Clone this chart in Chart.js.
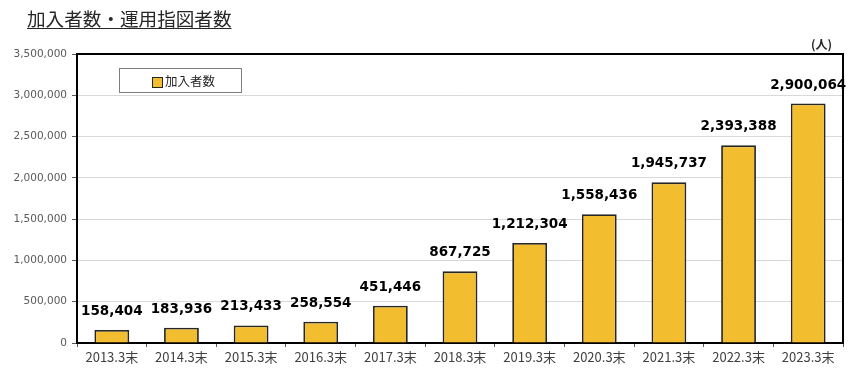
<!DOCTYPE html>
<html><head><meta charset="utf-8">
<script src="https://cdn.jsdelivr.net/npm/chart.js@4/dist/chart.umd.min.js"></script>
<style>
html,body{margin:0;padding:0;background:#fff;}
#wrap{position:relative;width:850px;height:373px;}
#title{position:absolute;left:27px;top:5px;font-family:"Noto Sans CJK JP";font-size:18.6px;color:#262626;text-decoration:underline;text-underline-offset:2px;line-height:26px;white-space:nowrap;}
#unit{position:absolute;left:811px;top:35px;font-family:"Noto Sans CJK JP";font-size:12px;color:#262626;font-weight:bold;white-space:nowrap;}
canvas{position:absolute;left:0;top:0;}
</style></head>
<body><div id="wrap">
<canvas id="c" width="850" height="373"></canvas>
<div id="title">加入者数・運用指図者数</div>
<div id="unit">(人)</div>
</div>
<script>
const categories = ["2013.3末","2014.3末","2015.3末","2016.3末","2017.3末","2018.3末","2019.3末","2020.3末","2021.3末","2022.3末","2023.3末"];
const members = [158404,183936,213433,258554,451446,867725,1212304,1558436,1945737,2393388,2900064];
const seriesName = "加入者数";
const yTicks = [0,500000,1000000,1500000,2000000,2500000,3000000,3500000];

const fmt = v => v.toLocaleString('en-US');

const overlay = {
  id:'overlay',
  afterDatasetsDraw(chart){
    const ctx = chart.ctx, a = chart.chartArea;
    const meta = chart.getDatasetMeta(0);
    ctx.save();
    ctx.font = 'bold 13.5px "DejaVu Sans"';
    ctx.fillStyle = '#000';
    ctx.textAlign = 'center';
    ctx.textBaseline = 'alphabetic';
    meta.data.forEach((bar,i)=>{
      ctx.fillText(fmt(members[i]), bar.x, bar.y - 15);
    });
    // border
    ctx.strokeStyle = '#000';
    ctx.lineWidth = 2;
    ctx.beginPath();
    ctx.moveTo(a.left, a.bottom);
    ctx.lineTo(a.left, a.top);
    ctx.lineTo(a.right, a.top);
    ctx.lineTo(a.right, a.bottom);
    ctx.stroke();
    // legend
    ctx.fillStyle = '#fff';
    ctx.fillRect(119.5, 68.5, 122, 24);
    ctx.strokeStyle = '#7f7f7f';
    ctx.lineWidth = 1;
    ctx.strokeRect(119.5, 68.5, 122, 24);
    ctx.fillStyle = '#F2BE2F';
    ctx.fillRect(152.5, 77.5, 10, 10);
    ctx.strokeStyle = '#262626';
    ctx.strokeRect(152.5, 77.5, 10, 10);
    ctx.fillStyle = '#262626';
    ctx.font = '12.5px "Noto Sans CJK JP"';
    ctx.textAlign = 'left';
    ctx.textBaseline = 'middle';
    ctx.fillText(seriesName, 165, 81);
    ctx.restore();
  }
};

new Chart(document.getElementById('c'), {
  type:'bar',
  data:{labels:categories, datasets:[{label:seriesName, data:members, backgroundColor:'#F2BE2F', borderColor:'#262626', borderWidth:1.8, barPercentage:0.5, categoryPercentage:1.0}]},
  options:{
    responsive:false, animation:false,
    layout:{padding:{left:0,right:7,top:54,bottom:0}},
    plugins:{legend:{display:false}, tooltip:{enabled:false}},
    scales:{
      x:{
        grid:{display:true, drawOnChartArea:false, drawTicks:true, tickLength:4, tickColor:'#595959', offset:true},
        border:{color:'#000', width:2},
        ticks:{color:'#404040', font:{family:'"Noto Sans CJK JP"', size:13}, padding:2, maxRotation:0, autoSkip:false},
        afterFit(s){ s.height = 30; }
      },
      y:{
        min:0, max:3500000,
        afterBuildTicks(s){ s.ticks = yTicks.map(v=>({value:v})); },
        grid:{color:'#d9d9d9', lineWidth:1, tickLength:5, tickColor:'#595959'},
        border:{color:'#000', width:2},
        ticks:{color:'#595959', font:{family:'"DejaVu Sans"', size:10.5}, padding:5, callback:v=>fmt(v)},
        afterFit(s){ s.width = 77; }
      }
    }
  },
  plugins:[overlay]
});
</script>
</body></html>
